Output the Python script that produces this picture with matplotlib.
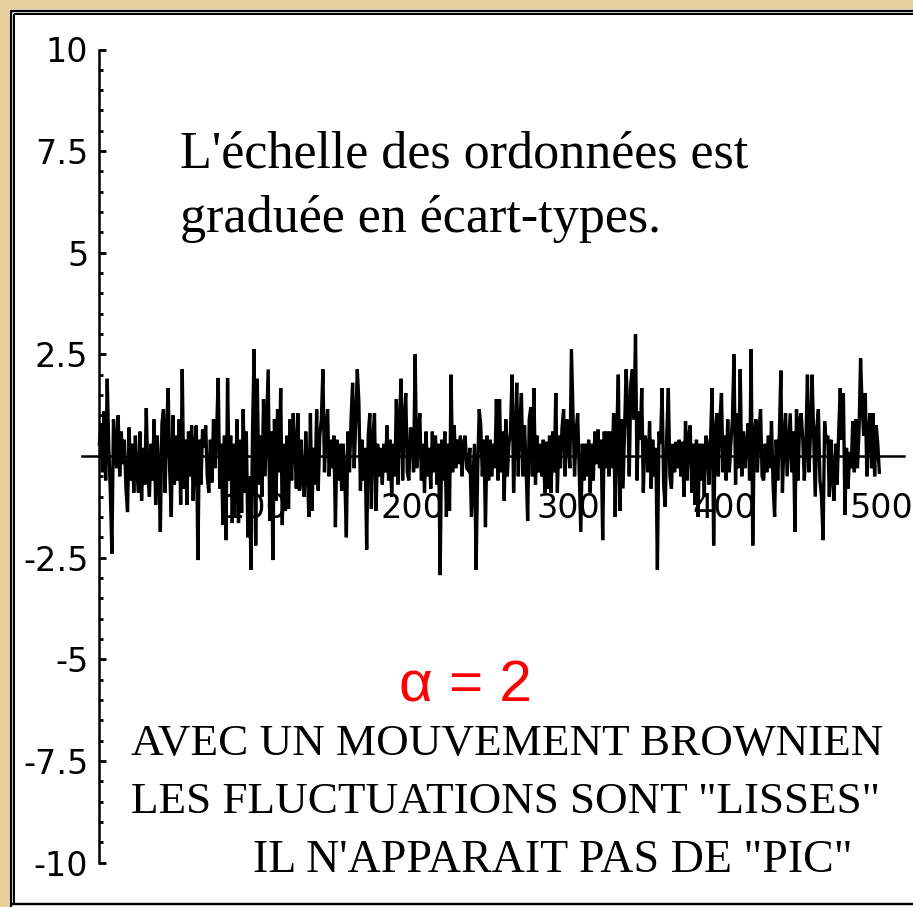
import numpy as np
import matplotlib.pyplot as plt
from matplotlib import font_manager
from matplotlib.lines import Line2D
from matplotlib.patches import Rectangle
from matplotlib.ticker import FixedLocator

# ecarts (en ecart-types), 500 pas
ecarts = [
    0.3, 0.8, -0.4, 1.1, -0.6, 1.9, 0.2, -0.9, -2.4, 0.9, 0.4, -0.3, 1.0, -0.5, 0.6, -0.2, 0.4, -0.8, -1.38, 0.7, -0.6, 0.3, -0.9, 0.5, -0.4,
    -0.9, 0.6, -1.1, 0.2, -0.7, 1.18, -0.5, -1.0, 0.3, -0.6, 0.9, -1.2, 0.5, -0.3, -1.87, 0.8, 1.15, -0.9, 0.6, 1.67, -0.4, -1.5, 1.0, -0.7, 0.5,
    -0.6, 0.9, -1.2, 2.14, -0.8, 0.4, -1.2, 0.6, -0.5, 0.75, -1.1, 0.3, 0.75, -2.56, 0.4, -0.7, 0.65, 0.2, 0.75, -0.5, -0.9, 0.4, -0.65, 0.9, -0.3,
    0.6, 1.92, -0.8, 0.3, -1.7, 0.5, -2.07, 1.92, -0.6, 0.5, -1.65, 0.3, -1.2, 0.9, -1.65, 0.4, -1.4, 1.15, -0.9, 0.6, -2.0, -0.5, -2.8, 0.7, 2.63,
    -2.2, 1.9, -0.7, 0.5, -1.0, 1.4, -0.5, 0.8, 2.13, -1.6, 0.6, -2.56, 0.9, -1.1, 1.15, -0.4, 1.67, -1.7, 0.3, -1.35, 0.5, -1.3, 0.9, -0.6, 1.05,
    0.3, -0.8, 1.05, -0.85, 0.4, -0.6, -1.0, 0.6, -0.3, -1.5, 1.05, -1.35, 0.2, -0.7, 1.15, -0.85, 0.5, 0.9, 2.13, -0.4, 0.6, 1.15, -0.5, 0.4, -0.3,
    0.5, -1.75, 0.4, -0.6, 0.3, -0.85, 0.3, -0.5, -2.0, 0.6, -0.4, 0.9, 1.8, -0.3, 0.8, 2.13, 1.35, -0.85, 0.4, -0.6, 0.2, -2.3, 0.5, 1.05, -1.3,
    0.4, 1.05, -1.35, 0.3, -0.5, 0.2, -0.7, 0.3, -0.4, 0.75, -0.6, 0.4, -1.0, 0.3, -0.5, 1.4, -0.7, 0.8, 1.9, -0.6, 0.9, 1.55, -0.4, -0.6, 0.7,
    0.6, -0.4, 2.5, -0.3, 0.5, 1.05, -0.6, 0.3, -0.9, 0.6, -0.5, 0.2, -0.8, 0.6, -0.4, 0.5, -0.7, 0.3, -2.93, 0.4, -0.6, 0.6, -1.5, 0.3, -1.35,
    2.0, -0.4, 0.75, -0.3, 0.4, -0.2, 0.5, -0.5, 0.3, 0.5, -0.3, -0.35, 0.2, -1.5, -0.6, 0.3, -2.8, -0.4, 1.15, 0.75, -0.5, 0.4, -1.75, 0.5, -0.6,
    0.4, -0.5, 0.3, -0.3, 1.4, -0.6, 1.4, -0.4, 0.6, -1.1, 0.9, -0.5, 0.3, 0.6, 2.0, -0.9, 0.4, 1.8, -0.5, 0.8, 1.55, -0.5, 0.75, -0.3, -1.6,
    0.9, 1.2, -0.5, 1.67, -0.7, 0.5, -0.4, 0.3, -0.5, 0.4, -0.9, 0.35, -0.8, 0.5, -0.9, 0.6, -0.4, 1.55, -0.9, 0.5, -0.3, 0.7, 1.15, -0.5, 0.9,
    0.4, -0.3, 2.63, 1.1, -0.5, 0.6, 1.05, -0.4, -1.87, 0.3, -0.6, 0.3, -0.5, 0.4, -0.9, 0.3, -0.6, 0.6, -0.2, 0.65, -0.3, 0.4, -2.07, 0.6, -0.3,
    0.6, -0.5, 0.6, -0.3, 1.05, -1.5, 0.5, 2.0, -1.35, 0.9, -0.8, 0.7, 2.13, 1.2, -0.5, 1.8, 2.13, 0.9, 3.0, -0.6, 1.1, 0.4, 1.67, -0.9, 0.5,
    0.3, -0.4, 0.85, -0.8, 0.4, -0.5, 0.2, -2.8, 0.6, 0.3, 1.67, -0.7, -1.25, 0.5, 1.67, -0.5, -0.8, 0.3, -0.4, 0.35, -0.3, 0.4, -0.5, 0.35, -1.0,
    0.85, -0.6, 0.5, 0.75, -0.9, 0.3, -1.2, 0.4, -1.5, 0.3, -0.6, 0.3, -1.0, 0.5, 0.3, -0.7, 0.4, 1.67, -2.2, 0.6, 1.05, -0.5, 0.9, 1.55, -0.4,
    0.5, -0.6, 0.9, -0.4, 0.3, 0.9, 2.5, -0.7, 1.05, -0.3, 2.13, -0.5, 0.6, -0.3, 0.3, 0.8, -0.6, 2.63, -2.2, 0.5, 0.9, -0.4, 0.6, 1.15, -0.5,
    -0.6, 0.3, -0.4, 0.5, -0.3, 0.85, -0.7, -1.5, 0.4, -0.6, 0.5, 2.1, -0.9, 0.4, 1.05, -0.5, 0.3, 1.05, -0.4, 0.6, -1.87, 1.15, -0.6, 0.9, 1.05,
    0.4, -0.6, 0.3, 2.0, -0.4, 0.6, 2.0, 0.5, -1.0, 0.7, 1.15, -0.6, -1.0, -2.07, 0.85, 0.3, 0.5, -1.0, 0.4, -0.5, -1.1, 0.3, -0.7, 0.6, 1.67,
    0.4, 1.55, -1.45, 0.2, -0.8, 0.1, -0.3, 0.85, -0.4, 0.9, -0.3, 0.6, 2.4, 1.2, 0.5, 1.55, -0.5, 0.6, 1.05, -0.3, 1.05, -0.5, 0.75, 0.3, -0.4,
]
pas = np.arange(len(ecarts))

y_ticks = [-10, -7.5, -5, -2.5, 0, 2.5, 5, 7.5, 10]
y_labels = ['-10', '-7.5', '-5', '-2.5', '', '2.5', '5', '7.5', '10']
x_ticks = [100, 200, 300, 400, 500]
x_labels = ['100', '200', '300', '400', '500']

W, H = 913, 907
fig = plt.figure(figsize=(W / 100, H / 100), dpi=100)


def fx(x):
    return x / W


def fy(y):
    return 1 - y / H


# fond beige + cadre double
tan = '#E6D09C'
fig.patch.set_facecolor(tan)
fig.add_artist(Rectangle((fx(9), 0), 1 - fx(9), fy(9), transform=fig.transFigure,
                         facecolor='white', edgecolor='none', zorder=0))
for (x0, y0, x1, y1, w) in [(10.5, 10, 10.5, 907, 2.4), (10, 11, 913, 11, 2.4),
                            (14.3, 14, 14.3, 903, 2.0), (14, 14.3, 913, 14.3, 2.0),
                            (10, 904, 913, 904, 2.4)]:
    fig.add_artist(Line2D([fx(x0), fx(x1)], [fy(y0), fy(y1)], transform=fig.transFigure,
                          color='black', lw=w * 0.72, solid_capstyle='butt'))

# axes: x=0 a 99.4 px, 1.563 px par pas ; y=0 a 456 px, 40.65 px par unite
left_px, right_px, top_px, bot_px = 78, 913, 30, 890
ax = fig.add_axes([fx(left_px), fy(bot_px), (right_px - left_px) / W, (bot_px - top_px) / H])
ax.patch.set_alpha(0)
ax.set_xlim((left_px - 99.4) / 1.563, (right_px - 99.4) / 1.563)
ax.set_ylim(-(bot_px - 456) / 40.65, (456 - top_px) / 40.65)

ax.plot(pas, ecarts, color='black', lw=2.4, solid_joinstyle='miter')

for s in ['top', 'right']:
    ax.spines[s].set_visible(False)
ax.spines['left'].set_position(('data', 0))
ax.spines['left'].set_bounds(-10, 10)
ax.spines['bottom'].set_position(('data', 0))
ax.spines['bottom'].set_bounds(-11, 515)
for s in ['left', 'bottom']:
    ax.spines[s].set_linewidth(1.8)

names = {f.name for f in font_manager.fontManager.ttflist}
if 'Liberation Sans Narrow' in names:
    tick_font, tick_size = 'Liberation Sans Narrow', 27
else:
    tick_font, tick_size = 'DejaVu Sans', 24

ax.set_yticks(y_ticks, y_labels)
ax.yaxis.set_minor_locator(FixedLocator(np.arange(-10, 10.01, 0.5)))
ax.tick_params(axis='y', which='major', direction='in', length=5, width=2, pad=8)
ax.tick_params(axis='y', which='minor', direction='in', length=3, width=2)
ax.set_xticks(x_ticks, x_labels)
ax.tick_params(axis='x', length=0, pad=26)
for lab in ax.get_xticklabels() + ax.get_yticklabels():
    lab.set_family(tick_font)
    lab.set_fontsize(tick_size)

serif = 'Liberation Serif'
fig.text(fx(180), fy(167), "L'échelle des ordonnées est", family=serif, fontsize=37.5,
         va='baseline', ha='left')
fig.text(fx(180), fy(232), "graduée en écart-types.", family=serif, fontsize=37.5,
         va='baseline', ha='left')

fig.text(fx(399), fy(702), 'α = 2', family='Liberation Sans', fontsize=42, color='#FF0000',
         va='baseline', ha='left')

fig.text(fx(131), fy(755), 'AVEC UN MOUVEMENT BROWNIEN', family=serif, fontsize=32.5,
         va='baseline', ha='left')
fig.text(fx(131), fy(813), 'LES FLUCTUATIONS SONT "LISSES"', family=serif, fontsize=32.5,
         va='baseline', ha='left')
fig.text(fx(253), fy(872), 'IL N\'APPARAIT PAS DE "PIC"', family=serif, fontsize=33,
         va='baseline', ha='left')

fig.savefig('out.png', dpi=100)
